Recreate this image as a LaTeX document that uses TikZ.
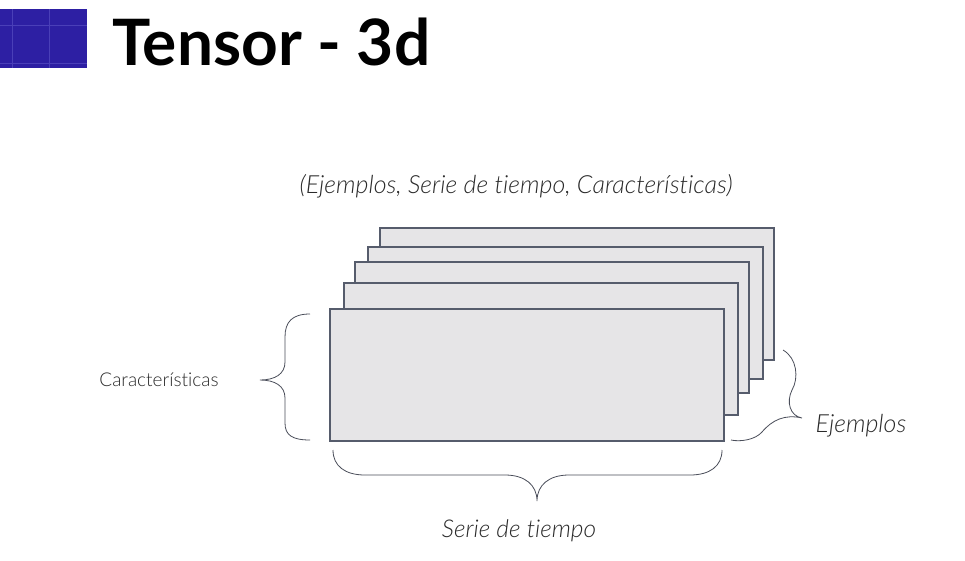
\documentclass[tikz,border=0pt]{standalone}
\usepackage{fontspec}
\setmainfont{Lato}[Ligatures=NoCommon]
\newfontfamily\latolight{Lato}[UprightFont=* Light, ItalicFont=* Light Italic, Ligatures=NoCommon]
\begin{document}
\begin{tikzpicture}[x=1pt,y=-1pt]
\definecolor{sqblue}{HTML}{2D1FA3}
\definecolor{sqline}{HTML}{4A3FB8}
\definecolor{slabfill}{HTML}{E6E5E7}
\definecolor{slabline}{HTML}{565C6C}
\definecolor{bracec}{HTML}{4A4E5A}
\definecolor{txt}{HTML}{2A2A2A}
\tikzset{
  slab/.style={draw=slabline,fill=slabfill,line width=1.05pt},
  bracepath/.style={draw=bracec,line width=0.8pt},
  lbl/.style={text=txt,inner sep=0pt,anchor=base}
}
\useasboundingbox[fill=white] (0,0) rectangle (965,560);
% blue square
\fill[sqblue] (0,9) rectangle (87,68);
\draw[sqline,line width=0.6pt] (12,9) -- (12,68) (49,9) -- (49,68) (0,25) -- (87,25) (0,63) -- (87,63);
\node[anchor=base west,inner sep=0pt,font=\fontsize{64}{70}\selectfont\bfseries] (title) at (112,65) {Tensor - 3d};
% caption
\node[lbl,font=\fontsize{25}{29}\selectfont\latolight\itshape] (cap) at (516,193) {(Ejemplos, Serie de tiempo, Características)};
% slabs back to front
\draw[slab] (380,228) rectangle (774,360);
\draw[slab] (368,247) rectangle (763,379);
\draw[slab] (355,262) rectangle (749,393);
\draw[slab] (344,283) rectangle (738,415);
\draw[slab] (330,309) rectangle (724,441);
% left brace
\draw[bracepath] (310,314) .. controls (292,314) and (285,322) .. (285,337) -- (285,362) .. controls (285,374) and (275,380) .. (260,380) .. controls (275,380) and (285,386) .. (285,398) -- (285,423) .. controls (285,435) and (292,440) .. (310,440);
\node[lbl,font=\fontsize{19}{23}\selectfont\latolight] (feat) at (159,386) {Características};
% bottom brace
\draw[bracepath] (333,450) .. controls (333,466) and (345,475) .. (365,475) -- (505,475) .. controls (525,475) and (537,485) .. (537,501) .. controls (537,485) and (549,475) .. (569,475) -- (690,475) .. controls (710,475) and (722,466) .. (722,450);
\node[lbl,font=\fontsize{24.5}{28}\selectfont\latolight\itshape] (time) at (519,537) {Serie de tiempo};
% right brace
\draw[bracepath] (783,350) .. controls (797,358) and (799,378) .. (792,390) .. controls (786,402) and (790,416) .. (802,418) .. controls (785,414) and (772,420) .. (762,432) .. controls (755,440) and (740,442) .. (731,440);
\node[lbl,font=\fontsize{25}{29}\selectfont\latolight\itshape] (ej) at (861,432) {Ejemplos};
\end{tikzpicture}
\end{document}
